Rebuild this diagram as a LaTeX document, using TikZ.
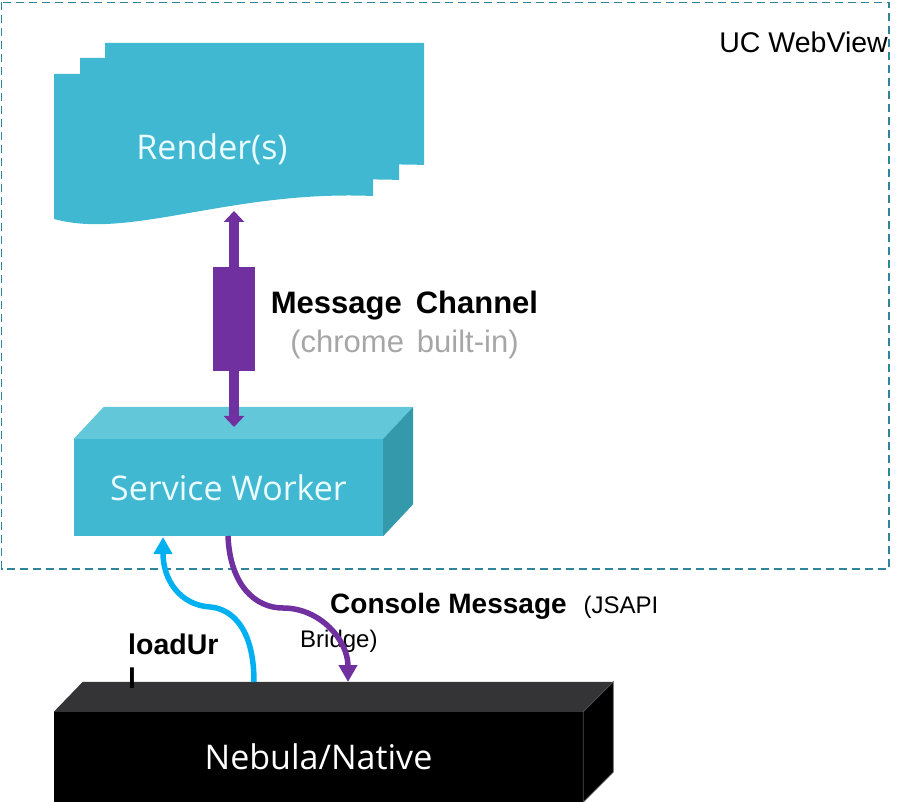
\documentclass[tikz,border=0pt]{standalone}
\usepackage{fontspec}
\setmainfont{Liberation Sans}
\newfontfamily\shapefont{Open Sans}
\usepackage{tikz}
\usetikzlibrary{arrows.meta}
\definecolor{webteal}{RGB}{49,133,155}
\definecolor{boxcyan}{RGB}{65,184,209}
\definecolor{boxcyantop}{RGB}{99,199,218}
\definecolor{boxcyanside}{RGB}{51,153,171}
\definecolor{boxwhite}{RGB}{234,252,255}
\definecolor{chanpurple}{RGB}{112,48,160}
\definecolor{loadblue}{RGB}{0,176,240}
\definecolor{nativetop}{RGB}{52,52,54}
\definecolor{chromegray}{RGB}{166,166,166}
\tikzset{
  region/.style={draw=webteal, line width=1.5pt, dash pattern=on 8pt off 5pt},
  weblabel/.style={font=\fontsize{28.5}{34}\selectfont, inner sep=0pt},
  boxlabel/.style={font=\shapefont\fontsize{34}{40}\selectfont, text=boxwhite},
  swface/.style={boxlabel, fill=boxcyan, minimum width=309pt, minimum height=97pt, inner sep=0pt},
  nativeface/.style={boxlabel, text=white, fill=black, minimum width=529pt, minimum height=90pt, inner sep=0pt},
  chan/.style={{Triangle[width=20pt,length=11pt]}-{Triangle[width=20pt,length=11pt]}, line width=10pt, draw=chanpurple},
  chanbar/.style={fill=chanpurple, minimum width=42pt, minimum height=104pt, inner sep=0pt},
  chanlabel/.style={font=\fontsize{31}{39}\selectfont, align=center, inner sep=0pt},
  loadflow/.style={-{Triangle[width=18pt,length=17pt]}, line width=5.5pt, draw=loadblue},
  consoleflow/.style={-{Triangle[width=18pt,length=17pt]}, line width=5.5pt, draw=chanpurple},
  flowlabel/.style={font=\fontsize{28.5}{34}\selectfont\bfseries, align=left, inner sep=0pt},
  consolelabel/.style={font=\fontsize{24}{34}\selectfont, align=left, inner sep=0pt},
}

\begin{document}
\begin{tikzpicture}[x=1pt,y=-1pt]
\useasboundingbox (0,0) rectangle (906,802);
% the webview region
\draw[region] (1.5,2.5) rectangle (889,569);
\node[weblabel, anchor=base east] (webview) at (888,53) {UC WebView};
% render pages, back to front
\foreach \dx/\dy in {51/-31,26/-16,0/0}
  \fill[boxcyan, shift={(\dx,\dy)}] (54,74) -- (373,74) -- (373,196) .. controls (230,190) and (130,240) .. (54,219) -- cycle;
\node[boxlabel] (render) at (212,149.6) {Render(s)};
% service worker block
\node[swface] (sw) at (228.5,487.5) {Service Worker};
\fill[boxcyantop] (sw.north west) -- ++(30,-32) -- ([shift={(30,-32)}]sw.north east) -- (sw.north east) -- cycle;
\fill[boxcyanside] (sw.north east) -- ++(30,-32) -- ([shift={(30,-32)}]sw.south east) -- (sw.south east) -- cycle;
% message channel
\coordinate (rendertip) at (234,211);
\coordinate (swtip) at (234,427);
\draw[chan] (rendertip) -- node[chanbar] (chanbar) {} (swtip);
\node[chanlabel] (chantext) at (404.5,324.5) {\textbf{Message\hspace{14pt}Channel}\\\textcolor{chromegray}{(chrome\hspace{13pt}built-in)}};
% native block
\node[nativeface] (native) at (318.5,757) {Nebula/Native};
\fill[nativetop] (native.north west) -- ++(29,-30) -- ([shift={(30,-30)}]native.north east) -- (native.north east) -- cycle;
\filldraw[fill=black, draw=black!70, line width=0.8pt] (native.north east) -- ++(30,-30) -- ([shift={(30,-30)}]native.south east) -- (native.south east) -- cycle;
% labels of the two flows
\node[flowlabel, anchor=north west] (loadtext) at (128,634) {loadUr\\l};
\node[consolelabel, anchor=north west] (consoletext) at (300,592.6) {\hspace*{30pt}{\fontsize{28}{34}\selectfont\bfseries Console Message}\hspace{17pt}(JSAPI\\Bridge)};
% the two flows
\coordinate (swin) at (163,537);
\coordinate (nativeout) at (254,682);
\draw[loadflow] (nativeout) .. controls (254,620) and (225,608) .. (210,607) .. controls (180,605) and (163,580) .. (swin);
\coordinate (swout) at (228,536);
\coordinate (nativein) at (348,682);
\draw[consoleflow] (swout) .. controls (230,585) and (255,608) .. (283,608) .. controls (320,608) and (348,640) .. (nativein);
\end{tikzpicture}
\end{document}
